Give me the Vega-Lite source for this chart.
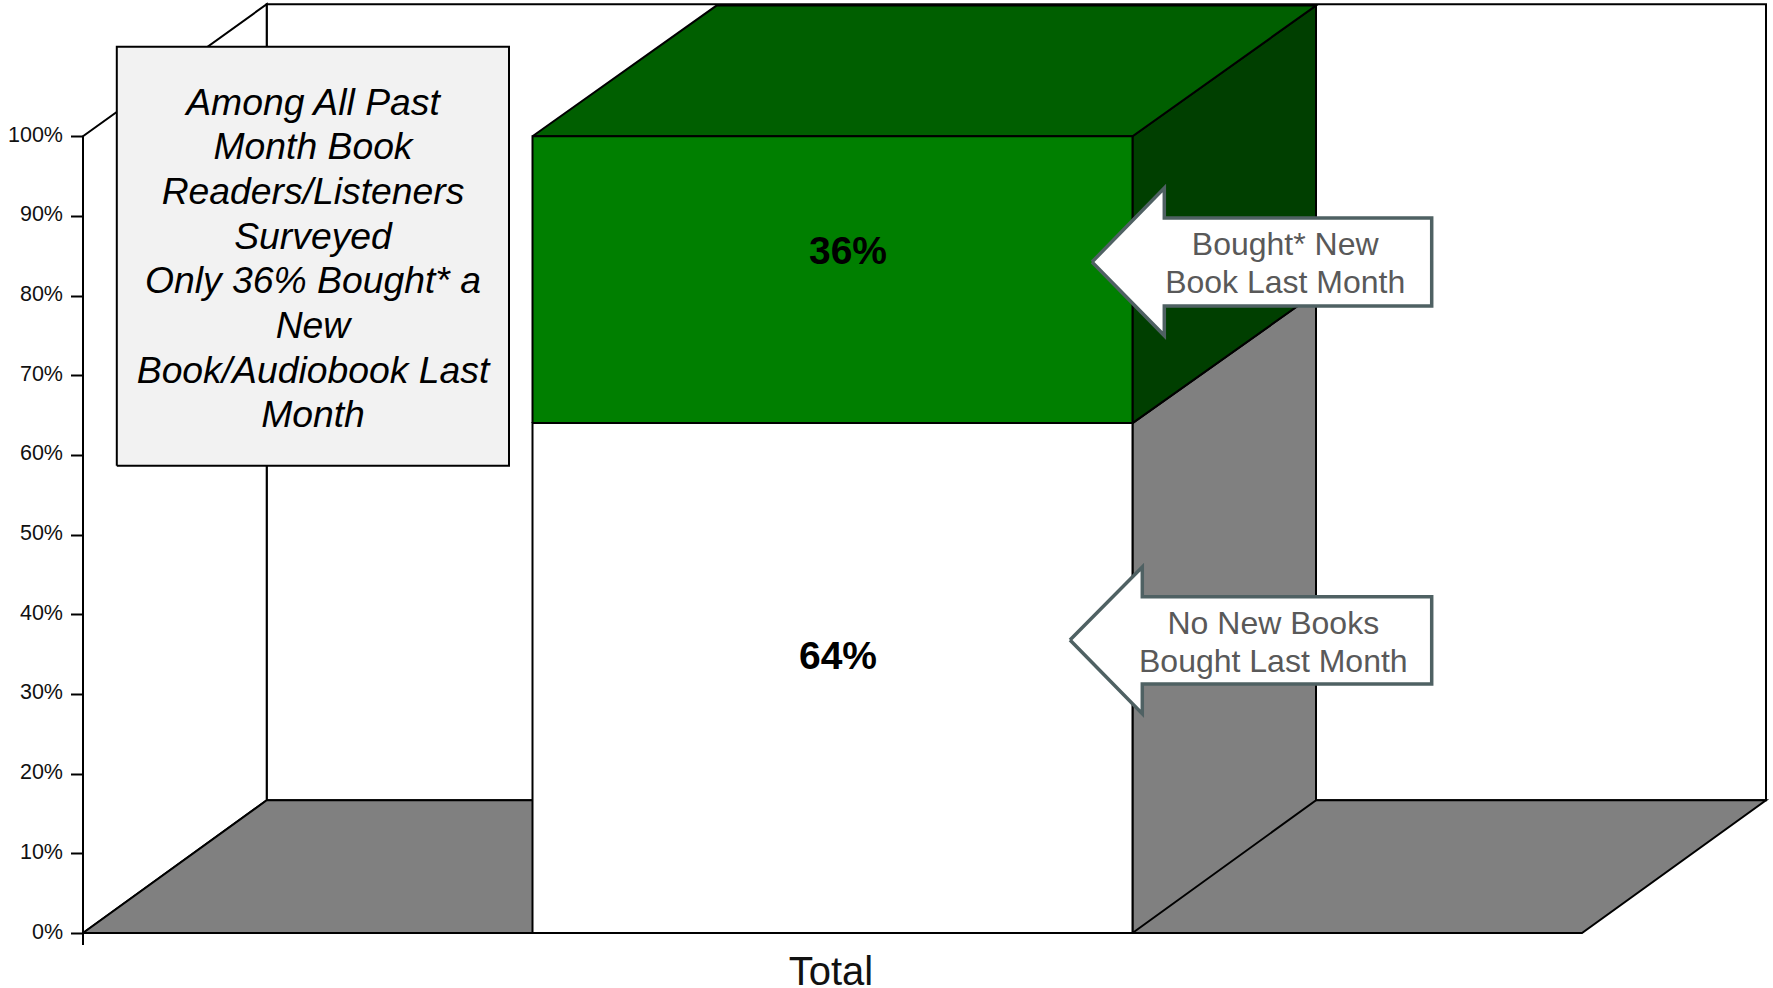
{"$schema":"https://vega.github.io/schema/vega-lite/v6.json","width":1773,"height":988,"padding":0,"autosize":"none","background":"white","config":{"view":{"stroke":null},"font":"Liberation Sans"},
"datasets":{"faces":[
{"face":"back wall","seq":1,"x":266.7,"pct":16.66},{"face":"back wall","seq":2,"x":266.7,"pct":116.57},{"face":"back wall","seq":3,"x":1766,"pct":116.57},{"face":"back wall","seq":4,"x":1766,"pct":16.66},{"face":"back wall","seq":5,"x":266.7,"pct":16.66},
{"face":"side wall","seq":1,"x":83,"pct":0},{"face":"side wall","seq":2,"x":83,"pct":100},{"face":"side wall","seq":3,"x":266.7,"pct":116.57},{"face":"side wall","seq":4,"x":266.7,"pct":16.66},{"face":"side wall","seq":5,"x":83,"pct":0},
{"face":"floor","seq":1,"x":83,"pct":0},{"face":"floor","seq":2,"x":1582,"pct":0},{"face":"floor","seq":3,"x":1766,"pct":16.66},{"face":"floor","seq":4,"x":266.7,"pct":16.66},{"face":"floor","seq":5,"x":83,"pct":0},
{"face":"no new side","seq":1,"x":1132.5,"pct":0},{"face":"no new side","seq":2,"x":1132.5,"pct":64},{"face":"no new side","seq":3,"x":1316,"pct":80.33},{"face":"no new side","seq":4,"x":1316,"pct":16.66},{"face":"no new side","seq":5,"x":1132.5,"pct":0},
{"face":"no new front","seq":1,"x":532.5,"pct":0},{"face":"no new front","seq":2,"x":532.5,"pct":64},{"face":"no new front","seq":3,"x":1132.5,"pct":64},{"face":"no new front","seq":4,"x":1132.5,"pct":0},{"face":"no new front","seq":5,"x":532.5,"pct":0},
{"face":"bought side","seq":1,"x":1132.5,"pct":64},{"face":"bought side","seq":2,"x":1132.5,"pct":100},{"face":"bought side","seq":3,"x":1316,"pct":116.4},{"face":"bought side","seq":4,"x":1316,"pct":80.33},{"face":"bought side","seq":5,"x":1132.5,"pct":64},
{"face":"bought top","seq":1,"x":532.5,"pct":100},{"face":"bought top","seq":2,"x":716.5,"pct":116.4},{"face":"bought top","seq":3,"x":1316,"pct":116.4},{"face":"bought top","seq":4,"x":1132.5,"pct":100},{"face":"bought top","seq":5,"x":532.5,"pct":100},
{"face":"bought front","seq":1,"x":532.5,"pct":64},{"face":"bought front","seq":2,"x":532.5,"pct":100},{"face":"bought front","seq":3,"x":1132.5,"pct":100},{"face":"bought front","seq":4,"x":1132.5,"pct":64},{"face":"bought front","seq":5,"x":532.5,"pct":64},
{"face":"note","seq":1,"x":116.8,"pct":58.65},{"face":"note","seq":2,"x":116.8,"pct":111.24},{"face":"note","seq":3,"x":509,"pct":111.24},{"face":"note","seq":4,"x":509,"pct":58.65},{"face":"note","seq":5,"x":116.8,"pct":58.65}
],
"callouts":[
{"arrow":"bought","seq":1,"x":1092,"pct":84.22},{"arrow":"bought","seq":2,"x":1164.3,"pct":93.51},{"arrow":"bought","seq":3,"x":1164.3,"pct":89.74},{"arrow":"bought","seq":4,"x":1431.7,"pct":89.74},{"arrow":"bought","seq":5,"x":1431.7,"pct":78.7},{"arrow":"bought","seq":6,"x":1164.3,"pct":78.7},{"arrow":"bought","seq":7,"x":1164.3,"pct":74.98},{"arrow":"bought","seq":8,"x":1092,"pct":84.22},
{"arrow":"no new","seq":1,"x":1070,"pct":36.78},{"arrow":"no new","seq":2,"x":1142.3,"pct":45.94},{"arrow":"no new","seq":3,"x":1142.3,"pct":42.22},{"arrow":"no new","seq":4,"x":1431.7,"pct":42.22},{"arrow":"no new","seq":5,"x":1431.7,"pct":31.25},{"arrow":"no new","seq":6,"x":1142.3,"pct":31.25},{"arrow":"no new","seq":7,"x":1142.3,"pct":27.53},{"arrow":"no new","seq":8,"x":1070,"pct":36.78}
]},
"layer":[
{"data":{"name":"faces"},"mark":{"type":"line","stroke":"#000000","strokeWidth":2,"strokeJoin":"miter","interpolate":"linear","clip":false},
"encoding":{"x":{"field":"x","type":"quantitative","scale":{"domain":[0,1773],"range":[0,1773],"nice":false,"zero":false},"axis":null},
"y":{"field":"pct","type":"quantitative","scale":{"domain":[-6.9,117.1],"range":[988,0],"nice":false,"zero":false},
"axis":{"orient":"left","offset":-83,"title":null,"grid":false,"domain":false,"values":[0,10,20,30,40,50,60,70,80,90,100],"labelExpr":"datum.value + '%'","tickSize":12.5,"tickWidth":2,"tickColor":"#000000","labelFontSize":21.5,"labelColor":"#111111","labelFont":"Liberation Sans","labelPadding":8,"labelOffset":-1}},
"fill":{"field":"face","type":"nominal","legend":null,"scale":{"domain":["back wall","side wall","floor","no new side","no new front","bought side","bought top","bought front","note"],"range":["#FFFFFF","#FFFFFF","#808080","#808080","#FFFFFF","#003F00","#005F00","#007F00","#F2F2F2"]}},
"detail":{"field":"face"},"order":{"field":"seq","type":"quantitative"}}},
{"data":{"values":[{"x":83,"pct":0,"pct2":-1.5}]},"mark":{"type":"rule","color":"#000000","strokeWidth":2},"encoding":{"x":{"field":"x","type":"quantitative"},"y":{"field":"pct","type":"quantitative"},"y2":{"field":"pct2"}}},
{"data":{"name":"callouts"},"mark":{"type":"line","stroke":"#4F6163","strokeWidth":3.5,"strokeJoin":"miter","fill":"#FFFFFF"},
"encoding":{"x":{"field":"x","type":"quantitative"},"y":{"field":"pct","type":"quantitative"},"detail":{"field":"arrow"},"order":{"field":"seq","type":"quantitative"}}},
{"data":{"values":[{"x":313,"pct":104.1,"text":"Among All Past\nMonth Book\nReaders/Listeners\nSurveyed\nOnly 36% Bought* a\nNew\nBook/Audiobook Last\nMonth"}]},"mark":{"type":"text","lineBreak":"\n","fontSize":37.3,"fontStyle":"italic","lineHeight":44.7,"align":"center","baseline":"middle","color":"#000000","font":"Liberation Sans"},
"encoding":{"x":{"field":"x","type":"quantitative"},"y":{"field":"pct","type":"quantitative"},"text":{"field":"text"}}},
{"data":{"values":[{"x":1285.2,"pct":86.3,"text":"Bought* New\nBook Last Month"},{"x":1273.3,"pct":38.75,"text":"No New Books\nBought Last Month"}]},"mark":{"type":"text","lineBreak":"\n","fontSize":32,"lineHeight":38,"align":"center","baseline":"middle","color":"#595959","font":"Liberation Sans"},
"encoding":{"x":{"field":"x","type":"quantitative"},"y":{"field":"pct","type":"quantitative"},"text":{"field":"text"}}},
{"data":{"values":[{"x":848,"pct":85.45,"text":"36%"},{"x":838,"pct":34.62,"text":"64%"}]},"mark":{"type":"text","fontSize":39,"fontWeight":"bold","align":"center","baseline":"middle","color":"#000000","font":"Liberation Sans"},
"encoding":{"x":{"field":"x","type":"quantitative"},"y":{"field":"pct","type":"quantitative"},"text":{"field":"text"}}},
{"data":{"values":[{"x":831,"pct":-5.0,"text":"Total"}]},"mark":{"type":"text","fontSize":40,"align":"center","baseline":"middle","color":"#111111","font":"Liberation Sans"},
"encoding":{"x":{"field":"x","type":"quantitative"},"y":{"field":"pct","type":"quantitative"},"text":{"field":"text"}}}
]}
